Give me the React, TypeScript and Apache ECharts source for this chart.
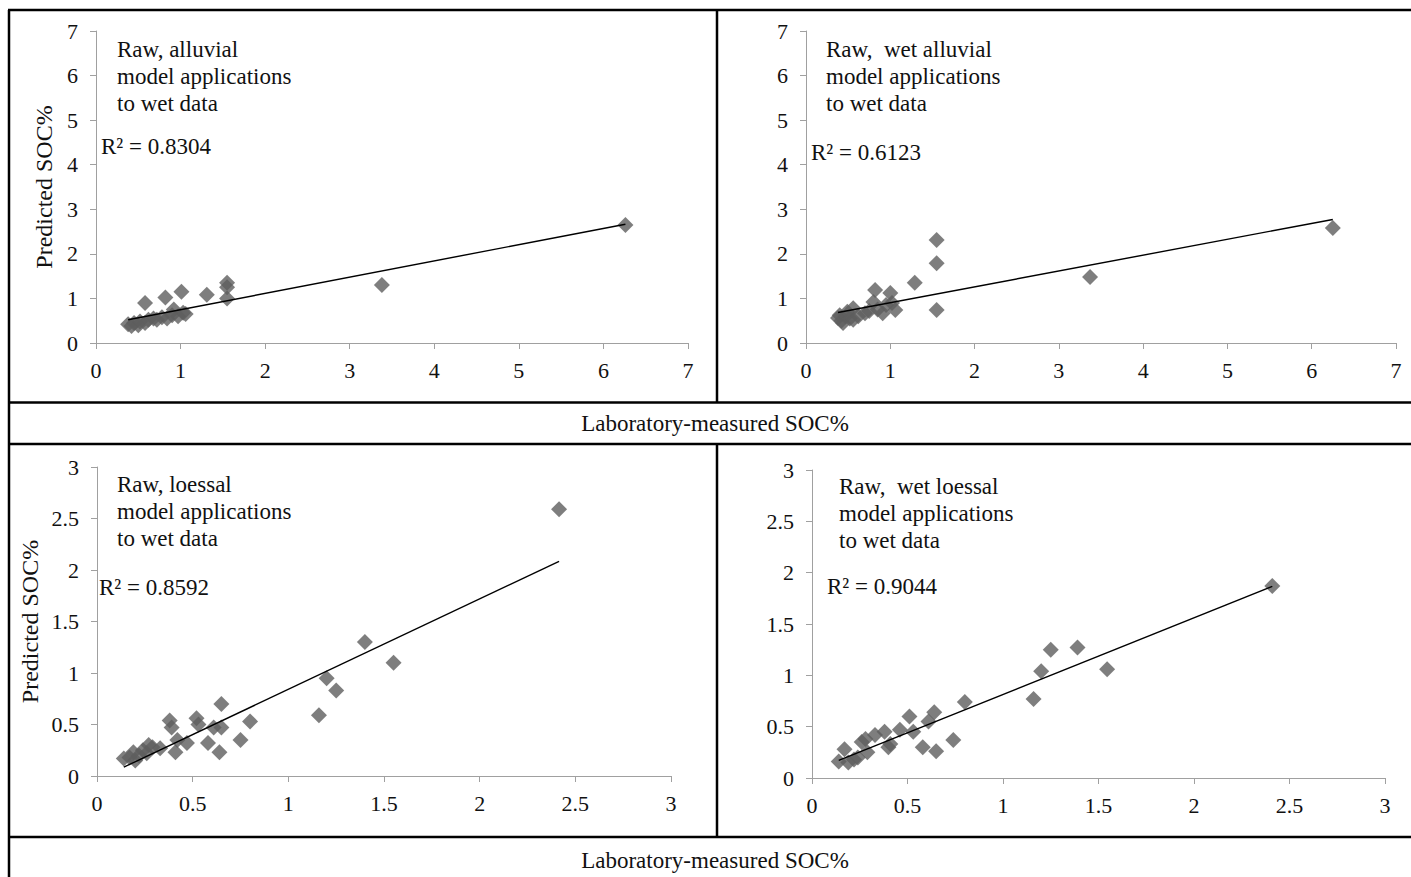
import React, { useEffect, useRef } from "react";
import * as echarts from "echarts";

// Raw, alluvial model applied to wet data: [laboratory SOC%, predicted SOC%]
const alluvialRaw: number[][] = [
  [0.38, 0.42], [0.42, 0.38], [0.45, 0.45], [0.5, 0.4], [0.52, 0.48], [0.58, 0.45],
  [0.62, 0.52], [0.68, 0.55], [0.72, 0.52], [0.78, 0.58], [0.84, 0.55], [0.9, 0.62],
  [0.92, 0.75], [0.97, 0.6], [1.03, 0.68], [1.06, 0.65], [0.58, 0.9], [0.82, 1.02],
  [1.01, 1.15], [1.31, 1.08], [1.55, 1.35], [1.55, 1.25], [1.55, 1.0], [3.38, 1.3],
  [6.26, 2.65],
];

// Raw, wet alluvial model applied to wet data
const alluvialWet: number[][] = [
  [0.38, 0.56], [0.4, 0.62], [0.42, 0.5], [0.44, 0.45], [0.47, 0.6], [0.49, 0.7],
  [0.52, 0.55], [0.56, 0.78], [0.56, 0.52], [0.62, 0.6], [0.7, 0.67], [0.75, 0.72],
  [0.8, 0.92], [0.82, 1.19], [0.85, 0.75], [0.91, 0.67], [0.95, 0.85], [1.0, 1.12],
  [1.02, 0.9], [1.06, 0.74], [1.29, 1.35], [1.55, 2.31], [1.55, 1.79], [1.55, 0.74],
  [3.37, 1.48], [6.25, 2.58],
];

// Raw, loessal model applied to wet data
const loessalRaw: number[][] = [
  [0.14, 0.17], [0.17, 0.18], [0.19, 0.23], [0.2, 0.15], [0.22, 0.2], [0.24, 0.25],
  [0.26, 0.22], [0.27, 0.3], [0.29, 0.28], [0.33, 0.27], [0.38, 0.54], [0.39, 0.47],
  [0.41, 0.23], [0.42, 0.35], [0.47, 0.32], [0.52, 0.56], [0.53, 0.5], [0.58, 0.32],
  [0.61, 0.47], [0.64, 0.23], [0.65, 0.7], [0.65, 0.47], [0.75, 0.35], [0.8, 0.53],
  [1.16, 0.59], [1.2, 0.95], [1.25, 0.83], [1.4, 1.3], [1.55, 1.1], [2.415, 2.59],
];

// Raw, wet loessal model applied to wet data
const loessalWet: number[][] = [
  [0.14, 0.16], [0.17, 0.28], [0.19, 0.15], [0.22, 0.18], [0.24, 0.2], [0.26, 0.35],
  [0.28, 0.38], [0.29, 0.25], [0.33, 0.42], [0.38, 0.45], [0.4, 0.3], [0.41, 0.33],
  [0.46, 0.47], [0.51, 0.6], [0.53, 0.45], [0.58, 0.3], [0.61, 0.55], [0.64, 0.64],
  [0.65, 0.26], [0.74, 0.37], [0.8, 0.74], [1.16, 0.77], [1.2, 1.04], [1.25, 1.25],
  [1.39, 1.27], [1.545, 1.06], [2.41, 1.87],
];

const panelTitles: string[][] = [
  ["Raw, alluvial", "model applications", "to wet data"],
  ["Raw,  wet alluvial", "model applications", "to wet data"],
  ["Raw, loessal", "model applications", "to wet data"],
  ["Raw,  wet loessal", "model applications", "to wet data"],
];
const rSquared: string[] = ["R² = 0.8304", "R² = 0.6123", "R² = 0.8592", "R² = 0.9044"];
const axisMax: number[] = [7, 7, 3, 3];
const axisStep: number[] = [1, 1, 0.5, 0.5];
const xTitle = "Laboratory-measured SOC%";
const yTitle = "Predicted SOC%";

const FONT = "Liberation Serif";

// Least-squares trendline spanning the observed x range
function trendline(pts: number[][]): number[][] {
  const n = pts.length;
  const mx = pts.reduce((s, p) => s + p[0], 0) / n;
  const my = pts.reduce((s, p) => s + p[1], 0) / n;
  let sxy = 0;
  let sxx = 0;
  pts.forEach(([x, y]) => {
    sxy += (x - mx) * (y - my);
    sxx += (x - mx) * (x - mx);
  });
  const b = sxy / sxx;
  const a = my - b * mx;
  const xs = pts.map((p) => p[0]);
  const x0 = Math.min(...xs);
  const x1 = Math.max(...xs);
  return [[x0, a + b * x0], [x1, a + b * x1]];
}

const grids = [
  { left: 96, top: 31, width: 592, height: 312 },
  { left: 806, top: 31, width: 590, height: 312 },
  { left: 97, top: 467, width: 574, height: 309 },
  { left: 812, top: 470, width: 573, height: 308 },
];

const titlePos = [
  { x: 117, y: 49, rx: 101, ry: 146 },
  { x: 826, y: 49, rx: 811, ry: 152 },
  { x: 117, y: 484, rx: 99, ry: 587 },
  { x: 839, y: 486, rx: 827, ry: 586 },
];

export default function App() {
  const ref = useRef<HTMLDivElement>(null);

  useEffect(() => {
    if (!ref.current) return;
    const chart = echarts.init(ref.current, null, { renderer: "svg" });
    const datasets = [alluvialRaw, alluvialWet, loessalRaw, loessalWet];

    const axisCommon = (i: number) => ({
      gridIndex: i,
      type: "value" as const,
      min: 0,
      max: axisMax[i],
      interval: axisStep[i],
      splitLine: { show: false },
      axisLine: { show: true, lineStyle: { color: "#a0a0a0", width: 1 } },
      axisTick: { show: true, inside: false, length: 6, lineStyle: { color: "#a0a0a0" } },
    });

    const xAxis = datasets.map((_, i) => ({
      ...axisCommon(i),
      axisLabel: { fontFamily: FONT, fontSize: 22, color: "#111", margin: 16 },
    }));
    const yAxis = datasets.map((_, i) => ({
      ...axisCommon(i),
      axisLabel: { fontFamily: FONT, fontSize: 22, color: "#111", margin: 18 },
      name: i % 2 === 0 ? yTitle : "",
      nameLocation: "middle",
      nameRotate: 90,
      nameGap: i === 0 ? 40 : 55,
      nameTextStyle: { fontFamily: FONT, fontSize: 24, color: "#111" },
    }));

    const series: any[] = [];
    datasets.forEach((d, i) => {
      series.push({
        type: "scatter",
        xAxisIndex: i,
        yAxisIndex: i,
        data: d,
        symbol: "diamond",
        symbolSize: 16,
        itemStyle: { color: "#5e5e5e" },
        z: 2,
      });
      series.push({
        type: "line",
        xAxisIndex: i,
        yAxisIndex: i,
        data: trendline(d),
        symbol: "none",
        lineStyle: { color: "#000", width: 1.4 },
        z: 3,
      });
    });

    const graphic: any[] = [];
    const line = (x1: number, y1: number, x2: number, y2: number) => ({
      type: "line",
      shape: { x1, y1, x2, y2 },
      style: { stroke: "#000", lineWidth: 2.5 },
      silent: true,
    });
    graphic.push(line(8, 10, 1411, 10));
    graphic.push(line(9, 10, 9, 877));
    graphic.push(line(8, 402.5, 1411, 402.5));
    graphic.push(line(8, 444, 1411, 444));
    graphic.push(line(8, 837, 1411, 837));
    graphic.push(line(717, 10, 717, 402.5));
    graphic.push(line(717, 444, 717, 837));

    const text = (t: string, x: number, y: number, align = "left") => ({
      type: "text",
      x,
      y,
      silent: true,
      style: {
        text: t,
        fontFamily: FONT,
        fontSize: 23,
        fill: "#111",
        align,
        verticalAlign: "middle",
      },
    });
    panelTitles.forEach((lines, i) => {
      const p = titlePos[i];
      lines.forEach((t, k) => graphic.push(text(t, p.x, p.y + k * 27)));
      graphic.push(text(rSquared[i], p.rx, p.ry));
    });
    graphic.push(text(xTitle, 715, 423, "center"));
    graphic.push(text(xTitle, 715, 860, "center"));

    chart.setOption({
      animation: false,
      backgroundColor: "#fff",
      grid: grids,
      xAxis,
      yAxis,
      series,
      graphic,
    });
    return () => chart.dispose();
  }, []);

  return (
    <div
      ref={ref}
      style={{ position: "absolute", left: 0, top: 0, width: 1411, height: 877 }}
    />
  );
}
